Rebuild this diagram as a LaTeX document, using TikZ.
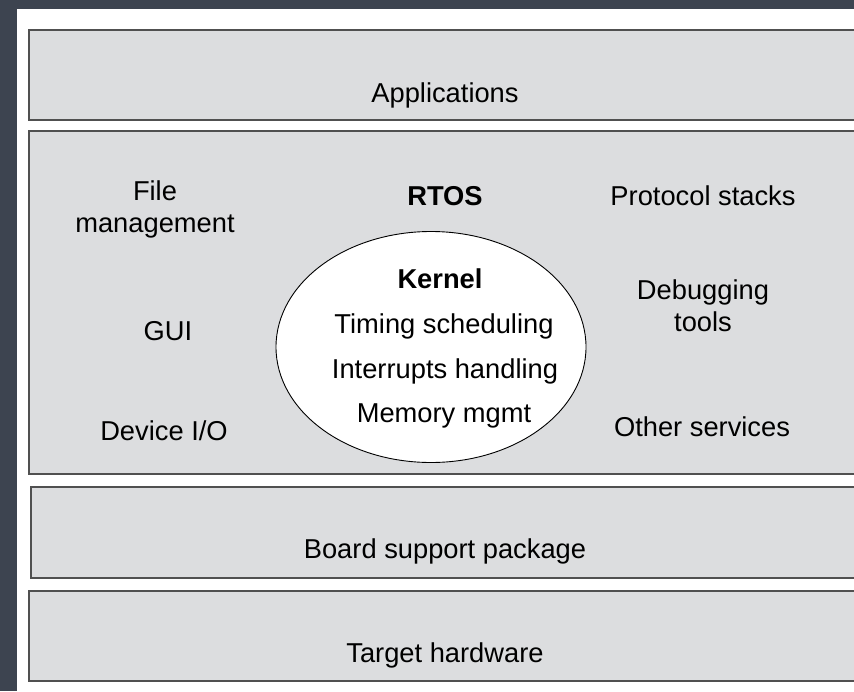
\documentclass[tikz,border=0pt]{standalone}
\usepackage{fontspec}
\setmainfont{Liberation Sans}
\usetikzlibrary{shapes.geometric}
\definecolor{frame}{HTML}{3D4450}
\definecolor{layer}{HTML}{DCDDDF}
\definecolor{edge}{HTML}{505050}
\begin{document}
\begin{tikzpicture}[x=1pt,y=-1pt,
  layerbox/.style={draw=edge,line width=2pt,fill=layer},
  lbl/.style={font=\fontsize{27.3}{32}\selectfont,text=black,align=center,inner sep=0pt,yshift=-3pt},
  blbl/.style={lbl,font=\fontsize{27.3}{32}\selectfont\bfseries}]
\useasboundingbox (0,0) rectangle (854,691);
\clip (0,0) rectangle (854,691);
% page frame
\fill[frame] (0,0) rectangle (854,691);
\fill[white] (17,9) rectangle (860,700);
% layers
\draw[layerbox] (29,30) rectangle (870,120);
\draw[layerbox] (29,131) rectangle (870,474);
\draw[layerbox] (31,487) rectangle (870,578);
\draw[layerbox] (29,591) rectangle (870,681);
% kernel ellipse
\node[ellipse,draw=black,line width=0.9pt,fill=white,minimum width=310pt,minimum height=231pt,inner sep=0pt] (kernel) at (431,347) {};
% labels
\node[lbl] (apps) at (445,92) {Applications};
\node[blbl] (rtos) at (445,193) {RTOS};
\node[lbl] (file) at (155,206) {File\\management};
\node[lbl] (proto) at (703,193) {Protocol stacks};
\node[lbl] (debug) at (703,303) {Debugging\\tools};
\node[lbl] (gui) at (168,328) {GUI};
\node[lbl] (devio) at (164,428) {Device I/O};
\node[lbl] (other) at (702,424) {Other services};
\node[blbl] (kt) at (440,276) {Kernel};
\node[lbl] (ts) at (444,323) {Timing scheduling};
\node[lbl] (ih) at (445,368) {Interrupts handling};
\node[lbl] (mm) at (444,413) {Memory mgmt};
\node[lbl] (bsp) at (445,548) {Board support package};
\node[lbl] (hw) at (445,652) {Target hardware};
\end{tikzpicture}
\end{document}
